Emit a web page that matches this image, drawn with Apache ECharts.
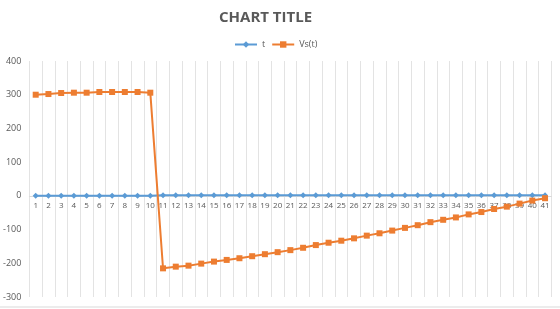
<!DOCTYPE html>
<html>
<head>
<meta charset="utf-8">
<script src="https://cdn.jsdelivr.net/npm/echarts@6/dist/echarts.min.js"></script>
<style>
  html, body { margin: 0; padding: 0; background: #fff; }
  #main { width: 560px; height: 309px; }
</style>
</head>
<body>
<div id="main"></div>
<script>
  var categories = [];
  for (var i = 1; i <= 41; i++) categories.push(String(i));

  var tValues = [0, 0, 0, 0, 0, 0, 0, 0, 0, 0,
    2, 2, 2, 2, 2, 2, 2, 2, 2, 2, 2, 2, 2, 2, 2, 2, 2, 2, 2, 2, 2, 2, 2, 2, 2, 2, 2, 2, 2, 2, 2];

  var vsValues = [300, 302, 305, 306, 306, 308, 308, 308, 308, 306,
    -215, -210, -207, -201, -195, -190, -185, -179, -173, -167,
    -161, -154, -146, -139, -133, -126, -118, -111, -103, -95,
    -87, -78, -71, -64, -55, -48, -39, -32, -23, -14, -7];

  var yMin = -300, yMax = 400;
  var gridTop = 61, gridBottom = 12;
  // put the category axis on the zero line
  var plotH = 309 - gridTop - gridBottom;
  var zeroOffset = -plotH * (0 - yMin) / (yMax - yMin);

  var myChart = echarts.init(document.getElementById('main'));

  var option = {
    animation: false,
    title: {
      text: 'CHART TITLE',
      left: 214,
      top: 5,
      textStyle: {
        fontFamily: 'Open Sans',
        fontWeight: 'bold',
        fontSize: 15,
        color: '#595959'
      }
    },
    legend: {
      top: 35,
      left: 229,
      itemWidth: 22,
      itemHeight: 8,
      itemGap: 6,
      textStyle: { fontFamily: 'Open Sans', fontSize: 9, color: '#595959' },
      data: ['t', 'Vs(t)']
    },
    grid: { left: 28.6, right: 8.6, top: gridTop, bottom: gridBottom },
    xAxis: {
      type: 'category',
      data: categories,
      boundaryGap: true,
      offset: zeroOffset,
      axisLine: { onZero: false, lineStyle: { color: '#d9d9d9' } },
      axisTick: { show: false },
      axisLabel: { interval: 0, fontSize: 8, color: '#595959', margin: 6, fontFamily: 'Open Sans' },
      splitLine: { show: true, interval: 0, lineStyle: { color: '#e3e3e3', width: 1 } }
    },
    yAxis: {
      type: 'value',
      min: yMin,
      max: yMax,
      interval: 100,
      axisLine: { show: false },
      axisTick: { show: false },
      splitLine: { show: false },
      axisLabel: { fontSize: 9, color: '#595959', margin: 8, fontFamily: 'Open Sans' }
    },
    series: [
      {
        name: 't',
        type: 'line',
        data: tValues,
        symbol: 'diamond',
        symbolSize: 6,
        showAllSymbol: true,
        itemStyle: { color: '#5b9bd5' },
        lineStyle: { color: '#5b9bd5', width: 2 }
      },
      {
        name: 'Vs(t)',
        type: 'line',
        data: vsValues,
        symbol: 'rect',
        symbolSize: 6,
        showAllSymbol: true,
        itemStyle: { color: '#ed7d31' },
        lineStyle: { color: '#ed7d31', width: 2 }
      }
    ],
    graphic: [{
      type: 'line',
      shape: { x1: 0, y1: 307, x2: 560, y2: 307 },
      style: { stroke: '#d9d9d9', lineWidth: 1 }
    }]
  };

  myChart.setOption(option);
</script>
</body>
</html>
